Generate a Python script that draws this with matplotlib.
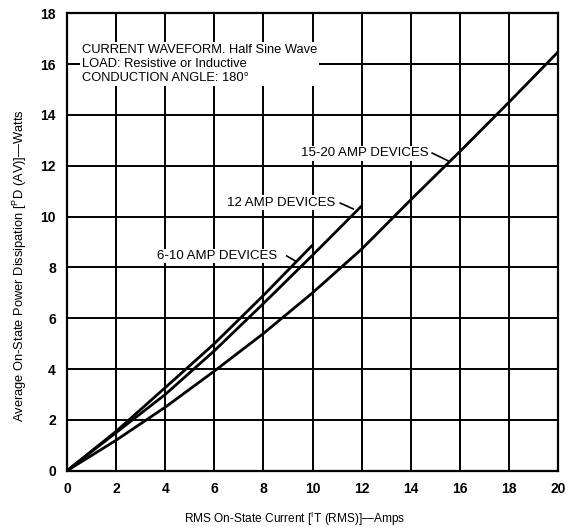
import matplotlib
matplotlib.use("Agg")
import matplotlib.pyplot as plt

plt.rcParams["font.family"] = ["Liberation Sans", "DejaVu Sans"]
plt.rcParams["mathtext.fontset"] = "custom"
plt.rcParams["mathtext.rm"] = "Liberation Sans"

# curve data (current in amps, power in watts)
x_6_10 = [0, 2, 4, 6, 8, 10]
p_6_10 = [0, 1.55, 3.27, 5.0, 6.9, 8.88]

x_12 = [0, 2, 4, 6, 8, 10, 12]
p_12 = [0, 1.5, 3.0, 4.72, 6.58, 8.48, 10.42]

x_15_20 = [0, 2, 4, 6, 8, 10, 12, 14, 16, 18, 20]
p_15_20 = [0, 1.2, 2.5, 3.92, 5.4, 7.0, 8.72, 10.66, 12.56, 14.5, 16.48]

x_ticks = list(range(0, 21, 2))
y_ticks = list(range(0, 19, 2))

notes = ["CURRENT WAVEFORM. Half Sine Wave",
         "LOAD: Resistive or Inductive",
         "CONDUCTION ANGLE: 180\u00b0"]

fig = plt.figure(figsize=(5.66, 5.27), dpi=100)
ax = fig.add_axes([0.1184, 0.1068, 0.8676, 0.868])

ax.set_xlim(0, 20)
ax.set_ylim(0, 18)
ax.set_xticks(x_ticks)
ax.set_yticks(y_ticks)
ax.tick_params(length=0, pad=8, labelsize=10)
for lab in ax.get_xticklabels() + ax.get_yticklabels():
    lab.set_fontweight("bold")
ax.grid(True, color="black", linewidth=1.4)
for sp in ax.spines.values():
    sp.set_linewidth(1.6)

for xs, ps in [(x_6_10, p_6_10), (x_12, p_12), (x_15_20, p_15_20)]:
    ax.plot(xs, ps, color="black", linewidth=2.0, solid_capstyle="butt", zorder=3)

# curve labels with short leader lines
labels = [("6-10 AMP DEVICES", 6.11, 8.45, (8.95, 8.45), (9.34, 8.23)),
          ("12 AMP DEVICES", 8.74, 10.54, (11.13, 10.53), (11.66, 10.3)),
          ("15-20 AMP DEVICES", 12.11, 12.5, (14.87, 12.5), (15.51, 12.2))]
for txt, tx, ty, p0, p1 in labels:
    ax.text(tx, ty, txt, ha="center", va="center", fontsize=9.5,
            bbox=dict(facecolor="white", edgecolor="none", pad=1.0), zorder=4)
    ax.plot([p0[0], p1[0]], [p0[1], p1[1]], color="black", linewidth=1.2, zorder=4)

ax.text(0.6, 16.0, "\n".join(notes), ha="left", va="center", fontsize=9.3,
        linespacing=1.2,
        bbox=dict(facecolor="white", edgecolor="none", pad=1.5), zorder=4)

ax.set_xlabel(r"RMS On-State Current [$^{\rm I}$T (RMS)]" + "\u2014Amps", fontsize=8.6)
ax.set_ylabel(r"Average On-State Power Dissipation [$^{\rm P}$D (AV)]" + "\u2014Watts",
              fontsize=9.3)
ax.xaxis.set_label_coords(0.464, -0.086)
ax.yaxis.set_label_coords(-0.078, 0.449)

fig.savefig("out.png", dpi=100, facecolor="white")
